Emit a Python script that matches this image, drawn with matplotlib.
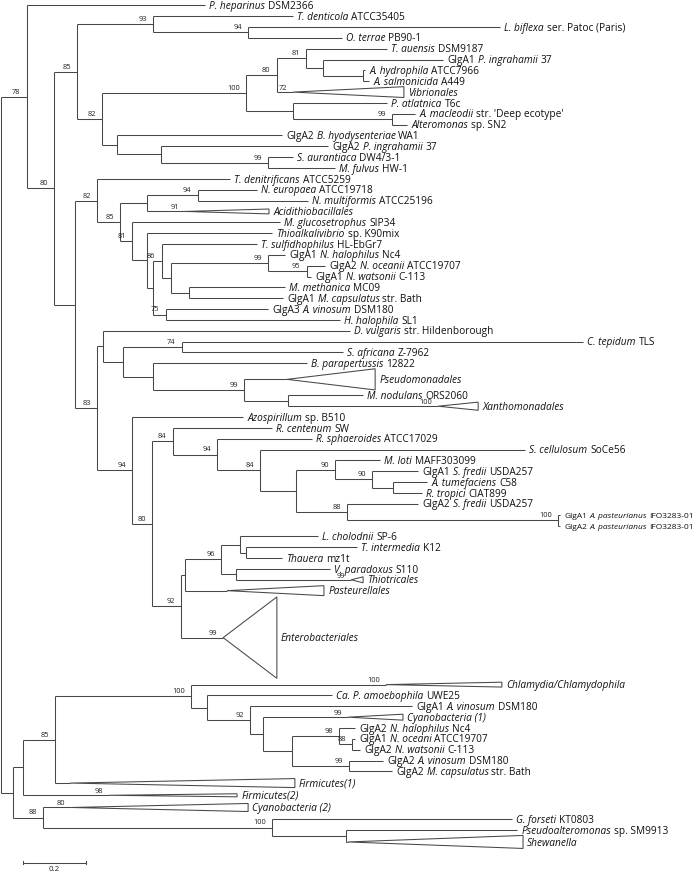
import re
import matplotlib.pyplot as plt
from matplotlib.collections import LineCollection
from matplotlib.patches import Polygon

plt.rcParams['font.family'] = 'Open Sans'

# internal nodes: name, parent, distance from root, bootstrap
node_names = ["root", "n78", "n80", "n85", "n93", "n94a", "n82a", "n100a", "n80b", "n81a",
              "nS", "nT", "nR", "n99d", "nP", "nQ", "n99c", "nMid", "n82b", "n85b",
              "nU", "n94b", "n81b", "nV", "nW", "n86", "nX", "n99e", "n95", "nY",
              "n75", "n83", "nA", "nB", "n74", "nC", "n99f", "nD", "n94c", "n80c",
              "n84a", "n94d", "n84b", "nE", "n90a", "n90b", "nF", "n88a", "n100b", "n92a",
              "nG", "n96", "nH", "nJ", "nI", "nBot", "nN", "n85c", "n100c", "nK",
              "n92b", "nL", "nM", "n98a", "n88b", "n99g", "n88c", "n100d", "nO"]
node_parent = [None, "root", "n78", "n80", "n85", "n93", "n85", "n82a", "n100a", "n80b",
               "n81a", "nS", "n100a", "nR", "n82a", "nP", "nQ", "n80", "nMid", "n82b",
               "n85b", "nU", "n85b", "n81b", "nV", "nW", "n86", "nX", "n99e", "nX",
               "nW", "nMid", "n83", "nA", "nB", "nB", "nC", "n99f", "n83", "n94c",
               "n80c", "n84a", "n94d", "n84b", "nE", "n90a", "n90b", "nE", "n88a", "n80c",
               "n92a", "nG", "n96", "nH", "n96", "root", "nBot", "nN", "n85c", "n100c",
               "nK", "n92b", "nL", "nM", "n98a", "nM", "nBot", "n88c", "n100d"]
node_depth = [0.0, 0.082, 0.168, 0.241, 0.481, 0.782, 0.320, 0.775, 0.873, 0.965,
              1.019, 1.146, 0.924, 1.237, 0.367, 0.506, 0.845, 0.234, 0.304, 0.377,
              0.462, 0.623, 0.415, 0.462, 0.481, 0.509, 0.538, 0.845, 0.968, 0.595,
              0.522, 0.304, 0.323, 0.386, 0.573, 0.481, 0.769, 0.908, 0.415, 0.478,
              0.544, 0.684, 0.820, 0.934, 1.057, 1.174, 1.241, 1.095, 1.763, 0.570,
              0.582, 0.696, 0.756, 0.775, 0.744, 0.038, 0.070, 0.171, 0.601, 0.652,
              0.788, 0.829, 0.921, 1.070, 1.111, 1.101, 0.133, 0.858, 1.092]
node_boot = [None, 78, 80, 85, 93, 94, 82, 100, 80, 81,
             None, None, None, 99, None, None, 99, None, 82, 85,
             None, 94, 81, None, None, 86, None, 99, 95, None,
             75, 83, None, None, 74, None, 99, None, 94, 80,
             84, 94, 84, None, 90, 90, None, 88, 100, 92,
             None, 96, None, None, None, None, None, 85, 100, None,
             92, None, None, 98, 88, 99, 88, 100, None]

# leaves top to bottom (*...* = italic)
leaf_labels = [
    "*P. heparinus* DSM2366", "*T. denticola* ATCC35405", "*L. biflexa* ser. Patoc (Paris)",
    "*O. terrae* PB90-1", "*T. auensis* DSM9187", "GlgA1 *P. ingrahamii* 37",
    "*A. hydrophila* ATCC7966", "*A. salmonicida* A449", "*Vibrionales*",
    "*P. atlatnica* T6c", "*A. macleodii* str. 'Deep ecotype'", "*Alteromonas* sp. SN2",
    "GlgA2 *B. hyodysenteriae* WA1", "GlgA2 *P. ingrahamii* 37", "*S. aurantiaca* DW4/3-1",
    "*M. fulvus* HW-1", "*T. denitrificans* ATCC5259", "*N. europaea* ATCC19718",
    "*N. multiformis* ATCC25196", "*Acidithiobacillales*", "*M. glucosetrophus* SIP34",
    "*Thioalkalivibrio* sp. K90mix", "*T. sulfidhophilus* HL-EbGr7", "GlgA1 *N. halophilus* Nc4",
    "GlgA2 *N. oceanii* ATCC19707", "GlgA1 *N. watsonii* C-113", "*M. methanica* MC09",
    "GlgA1 *M. capsulatus* str. Bath", "GlgA3 *A. vinosum* DSM180", "*H. halophila* SL1",
    "*D. vulgaris* str. Hildenborough", "*C. tepidum* TLS", "*S. africana* Z-7962",
    "*B. parapertussis* 12822", "*Pseudomonadales*", "*M. nodulans* ORS2060",
    "*Xanthomonadales*", "*Azospirillum* sp. B510", "*R. centenum* SW",
    "*R. sphaeroides* ATCC17029", "*S. cellulosum* SoCe56", "*M. loti* MAFF303099",
    "GlgA1 *S. fredii* USDA257", "*A. tumefaciens* C58", "*R. tropici* CIAT899",
    "GlgA2 *S. fredii* USDA257", "GlgA1 *A. pasteurianus* IFO3283-01", "GlgA2 *A. pasteurianus* IFO3283-01",
    "*L. cholodnii* SP-6", "*T. intermedia* K12", "*Thauera* mz1t",
    "*V. paradoxus* S110", "*Thiotricales*", "*Pasteurellales*",
    "*Enterobacteriales*", "*Chlamydia/Chlamydophila*", "*Ca. P. amoebophila* UWE25",
    "GlgA1 *A. vinosum* DSM180", "*Cyanobacteria (1)*", "GlgA2 *N. halophilus* Nc4",
    "GlgA1 *N. oceani* ATCC19707", "GlgA2 *N. watsonii* C-113", "GlgA2 *A. vinosum* DSM180",
    "GlgA2 *M. capsulatus* str. Bath", "*Firmicutes(1)*", "*Firmicutes(2)*",
    "*Cyanobacteria (2)*", "*G. forseti* KT0803", "*Pseudoalteromonas* sp. SM9913",
    "*Shewanella*"]
leaf_parent = [
    "n78", "n93", "n94a", "n94a", "n81a", "nS", "nT", "nT", "n80b", "nR",
    "n99d", "n99d", "nP", "nQ", "n99c", "n99c", "n82b", "n94b", "n94b", "nU",
    "n81b", "nV", "n86", "n99e", "n95", "n95", "nY", "nY", "n75", "n75",
    "nA", "n74", "n74", "nC", "n99f", "nD", "nD", "n94c", "n84a", "n94d",
    "n84b", "n90a", "n90b", "nF", "nF", "n88a", "n100b", "n100b", "nH", "nJ",
    "nJ", "nI", "nI", "nG", "n92a", "n100c", "nK", "n92b", "nL", "n98a",
    "n88b", "n88b", "n99g", "n99g", "n85c", "nN", "n88c", "n100d", "nO", "nO"]
leaf_depth = [
    0.646, 0.924, 1.579, 1.079, 1.222, 1.399, 1.152, 1.165, 1.275, 1.222,
    1.310, 1.285, 0.889, 1.035, 0.924, 1.057, 0.725, 0.810, 0.972, 0.848,
    0.883, 0.858, 0.810, 0.899, 1.025, 0.981, 0.899, 0.892, 0.845, 1.073,
    1.104, 1.842, 1.082, 0.968, 1.184, 1.146, 1.510, 0.766, 0.858, 0.984,
    1.658, 1.199, 1.320, 1.348, 1.332, 1.320, 1.769, 1.769, 1.003, 1.127,
    0.889, 1.041, 1.146, 1.022, 0.873, 1.585, 1.048, 1.301, 1.272, 1.120,
    1.120, 1.136, 1.209, 1.237, 0.930, 0.747, 0.782, 1.617, 1.633, 1.652]

# collapsed clades: leaf index, start depth, triangle height (rows), row slot, bootstrap
clade_leaf = [8, 19, 34, 36, 52, 53, 54, 55, 58, 64, 65, 66, 69]
clade_start = [0.924, 0.582, 0.905, 1.383, 1.108, 0.715, 0.703, 1.218, 1.098, 0.218, 0.342, 0.222, 1.098]
clade_height = [1.0, 0.45, 1.95, 0.75, 0.55, 0.92, 7.5, 0.45, 0.55, 0.83, 0.28, 0.74, 1.2]
clade_slot = [1.0, 1.0, 1.95, 1.0, 1.0, 1.0, 7.66, 1.0, 1.0, 1.15, 1.1, 1.15, 1.2]
clade_boot = [72, 91, None, 100, 99, None, 99, 100, 99, None, 98, 80, None]

small_labels = [46, 47]
scale_len = 0.2

LINE = '#474747'
PX_PER_UNIT = 316.0
ROW_PX = 10.85
W, H = 699, 874

slots = [1.0] * len(leaf_labels)
clade_info = {}
for i, a, h, sl, b in zip(clade_leaf, clade_start, clade_height, clade_slot, clade_boot):
    slots[i] = sl
    clade_info[i] = (a, h, b)

leaf_y = []
pos = 0.0
for i, s in enumerate(slots):
    if i:
        pos += (slots[i - 1] + s) / 2
    leaf_y.append(pos)

depth = dict(zip(node_names, node_depth))
boot = dict(zip(node_names, node_boot))
kids = {n: [] for n in node_names}
for n, p in zip(node_names, node_parent):
    if p is not None:
        kids[p].append(('node', n))
for i, p in enumerate(leaf_parent):
    kids[p].append(('leaf', i))

segs = []
node_y = {}


def lay_out(n):
    items = []
    for kind, k in kids[n]:
        if kind == 'leaf':
            end = clade_info[k][0] if k in clade_info else leaf_depth[k]
            items.append((k, leaf_y[k], end))
        else:
            first, yy = lay_out(k)
            items.append((first, yy, depth[k]))
    items.sort()
    for _, yy, end in items:
        segs.append([(depth[n], yy), (end, yy)])
    segs.append([(depth[n], items[0][1]), (depth[n], items[-1][1])])
    node_y[n] = (items[0][1] + items[-1][1]) / 2
    return items[0][0], node_y[n]


lay_out('root')


def split_label(s):
    # "GlgA1 *P. ingrahamii* 37" -> [("GlgA1", False), ("P. ingrahamii", True), ("37", False)]
    parts = []
    for k, chunk in enumerate(re.split(r'\*', s)):
        chunk = chunk.strip()
        if chunk:
            parts.append((chunk, k % 2 == 1))
    return parts


def draw_label(ax, x, y, s, fs):
    prev = None
    for chunk, ital in split_label(s):
        style = 'italic' if ital else 'normal'
        if prev is None:
            prev = ax.annotate(chunk, (x, y), xytext=(3, -2.6), textcoords='offset points',
                               ha='left', va='baseline', fontsize=fs, style=style,
                               color='#111111')
        else:
            prev = ax.annotate(chunk, (1, 0), xycoords=prev, xytext=(fs * 0.28, 0),
                               textcoords='offset points', ha='left', va='bottom',
                               fontsize=fs, style=style, color='#111111')


fig = plt.figure(figsize=(W / 100, H / 100), dpi=100)
ax = fig.add_axes([0, 0, 1, 1])
ax.set_xlim(-1 / PX_PER_UNIT, (W - 1) / PX_PER_UNIT)
ax.set_ylim((H - 5.3) / ROW_PX, -5.3 / ROW_PX)
ax.axis('off')

ax.add_collection(LineCollection(segs, colors=LINE, linewidths=0.75))

for i, (a, h, b) in clade_info.items():
    y, r = leaf_y[i], leaf_depth[i]
    ax.add_patch(Polygon([(a, y), (r, y - h / 2), (r, y + h / 2)], closed=True,
                         fill=False, edgecolor=LINE, linewidth=0.75))
    if b is not None:
        ax.annotate(str(b), (a, y), xytext=(-4.5, 0.1), textcoords='offset points',
                    ha='right', va='bottom', fontsize=5.4, color='#222222')

for n in node_names:
    if boot[n] is not None:
        ax.annotate(str(boot[n]), (depth[n], node_y[n]), xytext=(-4.5, 0.8),
                    textcoords='offset points', ha='right', va='bottom',
                    fontsize=5.4, color='#222222')

for i, lab in enumerate(leaf_labels):
    fs = 6.0 if i in small_labels else 7.3
    draw_label(ax, leaf_depth[i], leaf_y[i], lab, fs)

# scale bar
yb = leaf_y[-1] + 1.9
x0 = 0.07
tick = 0.15
ax.plot([x0, x0 + scale_len], [yb, yb], color=LINE, lw=0.75)
ax.plot([x0, x0], [yb - tick, yb + tick], color=LINE, lw=0.75)
ax.plot([x0 + scale_len, x0 + scale_len], [yb - tick, yb + tick], color=LINE, lw=0.75)
ax.text(x0 + scale_len / 2, yb + 0.35, str(scale_len), ha='center', va='top',
        fontsize=5.8, color='#222222')

fig.savefig('out.png', dpi=100)
